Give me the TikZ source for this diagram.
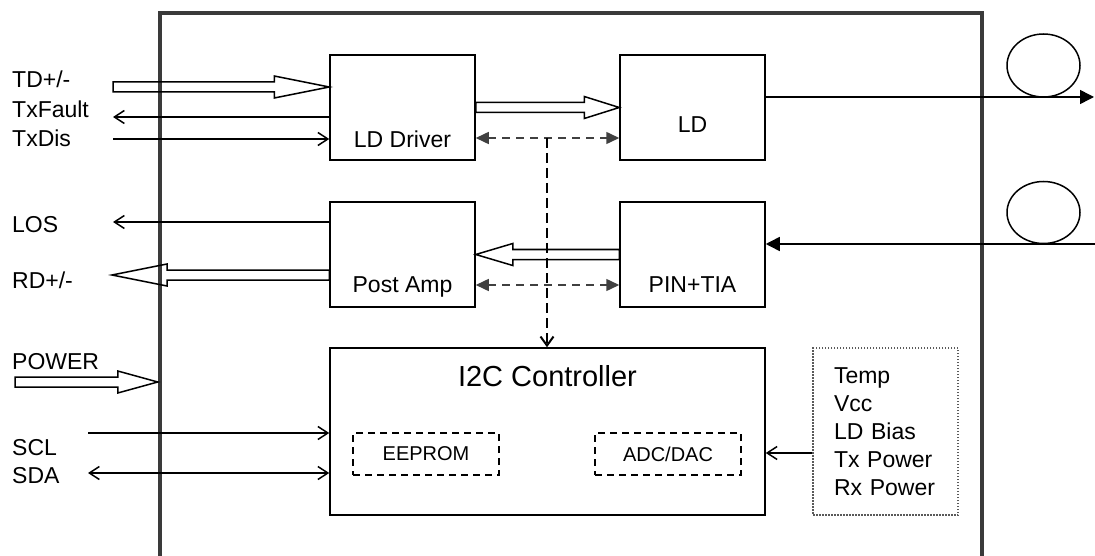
\documentclass[tikz,border=0pt]{standalone}
\usepackage{fontspec}
\setmainfont{Liberation Sans}
\usetikzlibrary{arrows.meta, positioning, calc}
\definecolor{framegray}{RGB}{58, 58, 58}
\definecolor{busgray}{RGB}{64, 64, 64}
\definecolor{dotgray}{RGB}{90, 90, 90}

% wide hollow arrow between two points at the same height
\newcommand{\hollowarrow}[3]{%
  \draw[fatline] let \p1=(#1), \p2=(#2), \n1={sign(\x2-\x1)*#3} in
    (\x1,\y1+5pt) -- (\x2-\n1,\y1+5pt) -- (\x2-\n1,\y1+11pt) -- (\x2,\y1)
    -- (\x2-\n1,\y1-11pt) -- (\x2-\n1,\y1-5pt) -- (\x1,\y1-5pt) -- cycle;}

\begin{document}
\begin{tikzpicture}[x=1pt, y=-1pt,
  >={Straight Barb[length=10pt, width=13pt]},
  blk/.style={draw, line width=1.5pt, minimum width=145pt, minimum height=105pt, inner sep=0pt},
  subblk/.style={draw, line width=1.3pt, dash pattern=on 7pt off 5pt, minimum width=146pt, minimum height=42pt, inner sep=0pt, font=\fontsize{20}{24}\selectfont},
  lbl/.style={inner sep=0pt, font=\fontsize{23}{28}\selectfont},
  ctitle/.style={inner sep=0pt, font=\fontsize{29}{34}\selectfont},
  mon/.style={draw=dotgray, line width=1.2pt, dash pattern=on 1.5pt off 1.5pt, minimum width=145pt, minimum height=167pt, text width=103pt, align=left, inner xsep=21pt, font=\fontsize{23}{28}\selectfont},
  fatline/.style={draw, line width=1.5pt, line join=miter},
  sig/.style={line width=1.5pt},
  fib/.style={line width=1.5pt, -{Triangle[length=14pt, width=14pt]}},
  ctl/.style={draw=busgray, line width=1.5pt, dash pattern=on 8pt off 6pt, {Triangle[length=13pt, width=12pt]}-{Triangle[length=13pt, width=12pt]}},
  ctlv/.style={line width=2pt, dash pattern=on 10pt off 5pt, -{Straight Barb[length=9pt, width=13pt]}}
]
  \useasboundingbox (0,0) rectangle (1095,556);

  \node[draw=framegray, line width=4.5pt, minimum width=822pt, minimum height=549pt, inner sep=0pt] (module) at (571,287.5) {};

  % blocks
  \node[blk] (ldd) at (402.5,107.5) {};
  \node[blk] (ld) at (692.5,107.5) {};
  \node[blk] (pamp) at (402.5,254.5) {};
  \node[blk] (pin) at (692.5,254.5) {};
  \node[blk, minimum width=435pt, minimum height=167pt] (i2c) at (547.5,431.5) {};
  \node[subblk] (eeprom) at (426,454) {EEPROM};
  \node[subblk] (adc) at (668,454) {ADC/DAC};
  \node[mon] (mon) at (885.5,431.5) {Temp\\Vcc\\LD Bias\\Tx Power\\Rx Power};

  \node[lbl, anchor=base] at ([yshift=13pt]ldd.south) {LD Driver};
  \node[lbl, anchor=base] at ([yshift=28pt]ld.south) {LD};
  \node[lbl, anchor=base] at ([yshift=15pt]pamp.south) {Post Amp};
  \node[lbl, anchor=base] at ([yshift=15pt]pin.south) {PIN+TIA};
  \node[ctitle, anchor=base] at ([yshift=-39pt]i2c.north) {I2C Controller};

  % pins on the left
  \node[lbl, anchor=base west] at (12,88) {TD+/-};
  \node[lbl, anchor=base west] at (12,118) {TxFault};
  \node[lbl, anchor=base west] at (12,147) {TxDis};
  \node[lbl, anchor=base west] at (12,233) {LOS};
  \node[lbl, anchor=base west] at (12,288) {RD+/-};
  \node[lbl, anchor=base west] at (12,369) {POWER};
  \node[lbl, anchor=base west] at (12,455) {SCL};
  \node[lbl, anchor=base west] at (12,483) {SDA};

  \coordinate (tdin) at (113,87);
  \coordinate (txf) at (113,117);
  \coordinate (txd) at (113,139);
  \coordinate (los) at (113,222);
  \coordinate (rdout) at (112,275);
  \coordinate (pwrin) at (15,382);
  \coordinate (scl) at (88,433);
  \coordinate (sda) at (88,473);
  \coordinate (busa) at (547,138);
  \coordinate (busb) at (547,285);
  \coordinate (fibout) at (1094,97);
  \coordinate (fibin) at (1095,244);
  \coordinate (monout) at ([yshift=-21.5pt]mon.west);

  \hollowarrow{tdin}{ldd.west |- tdin}{55pt}
  \hollowarrow{ldd.east}{ld.west}{35pt}
  \hollowarrow{pin.west}{pamp.east}{37pt}
  \hollowarrow{pamp.west |- rdout}{rdout}{55pt}
  \hollowarrow{pwrin}{module.west |- pwrin}{40pt}

  \draw[sig, <-] (txf) -- (ldd.west |- txf);
  \draw[sig, ->] (txd) -- (ldd.west |- txd);
  \draw[sig, <-] (los) -- (pamp.west |- los);
  \draw[sig, ->] (scl) -- (i2c.west |- scl);
  \draw[sig, <->] (sda) -- (i2c.west |- sda);
  \draw[sig, ->] (monout) -- (i2c.east |- monout);

  % control bus
  \draw[ctl] (ldd.east |- busa) -- (ld.west |- busa);
  \draw[ctl] (pamp.east |- busb) -- (pin.west |- busb);
  \draw[ctlv] (busa) -- (i2c.north -| busa);

  % fibres
  \draw[fib] (ld.east |- fibout) -- (fibout);
  \draw[fib] (fibin) -- (pin.east |- fibin);
  \draw[line width=1.5pt] (1043.5,65.5) ellipse [x radius=36.5pt, y radius=31.5pt];
  \draw[line width=1.5pt] (1043.5,212.5) ellipse [x radius=36.5pt, y radius=31pt];
\end{tikzpicture}
\end{document}
